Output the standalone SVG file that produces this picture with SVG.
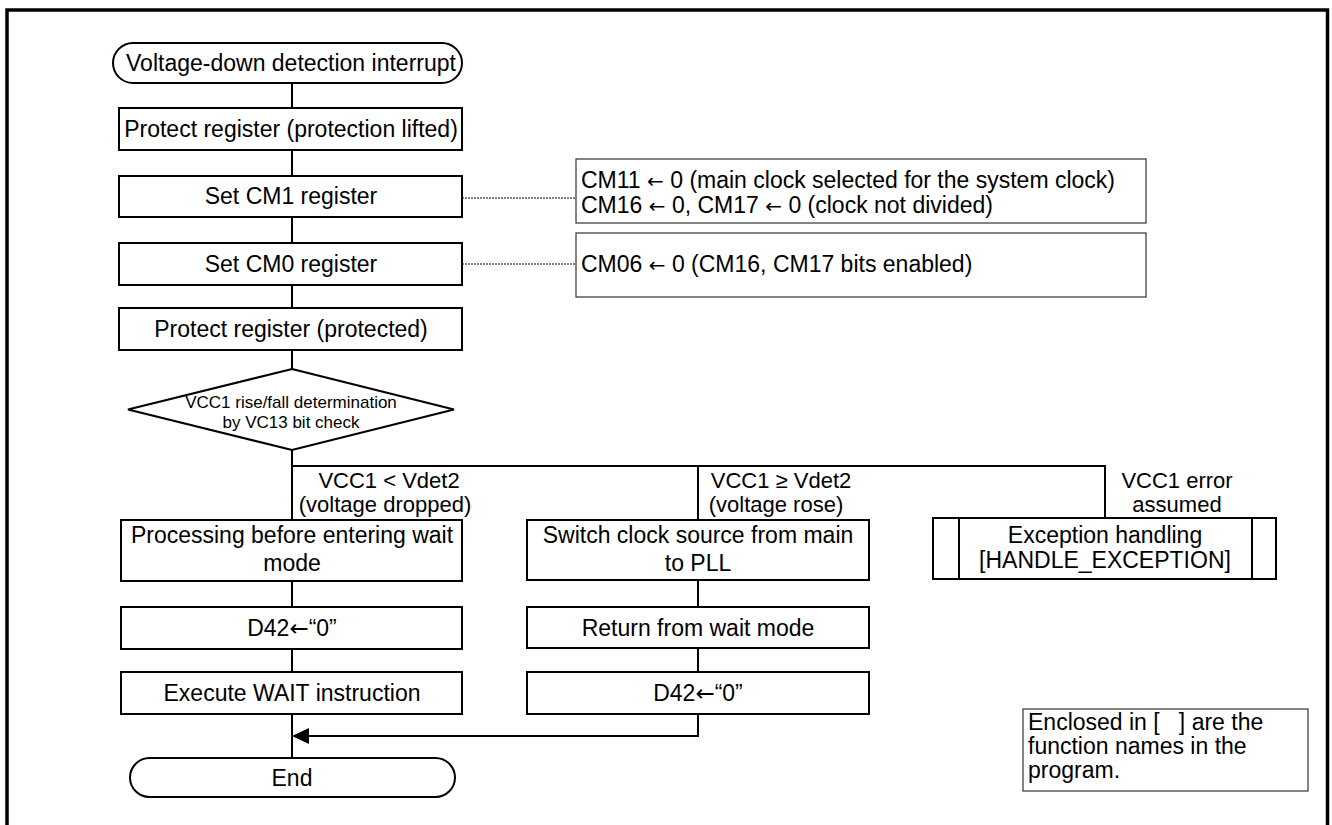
<svg xmlns="http://www.w3.org/2000/svg" width="1332" height="825" viewBox="0 0 1332 825">
<defs>
<style>
text{font-family:"Liberation Sans",Arial,sans-serif;font-size:23px;fill:#000;}
.c{text-anchor:middle;}
.s{font-size:17px;}
.lb{font-size:22px;}
.ar{font-family:"DejaVu Sans",sans-serif;font-size:20px;}
.ar2{font-family:"DejaVu Sans",sans-serif;font-size:23px;}
.pre{white-space:pre;}
.box{fill:#fff;stroke:#000;stroke-width:2;}
.note{fill:#fff;stroke:#333;stroke-width:1.2;}
.ln{fill:none;stroke:#000;stroke-width:2;}
.dot{fill:none;stroke:#000;stroke-width:1;stroke-dasharray:2 1;}
</style>
</defs>
<rect x="0" y="0" width="1332" height="825" fill="#fff"/>
<rect x="7" y="10" width="1320.5" height="840" fill="none" stroke="#000" stroke-width="3.5"/>

<g id="connectors">
<path class="ln" d="M292 83V108M292 150V176M292 217V243M292 285V308M292 350V369M292 450V520M292 581V607M292 649V672M292 714V758"/>
<path class="ln" d="M292 466H1105V518M698 466V520M698 580V607M698 648V672M698 714V736H300"/>
<path d="M292 736L309 728V744Z" fill="#000"/>
<path class="dot" d="M462 198H576M462 264H576"/>
</g>

<g id="start">
<rect class="box" x="113" y="43" width="349" height="40" rx="20"/>
<text class="c" x="291" y="71">Voltage-down detection interrupt</text>
</g>
<g id="protect-lift">
<rect class="box" x="119" y="108" width="343" height="42"/>
<text class="c" x="291" y="137">Protect register (protection lifted)</text>
</g>
<g id="set-cm1">
<rect class="box" x="119" y="176" width="343" height="41"/>
<text class="c" x="291" y="204">Set CM1 register</text>
</g>
<g id="note-cm1">
<rect class="note" x="576" y="159" width="570" height="64"/>
<text x="581" y="188">CM11 <tspan class="ar">←</tspan> 0 (main clock selected for the system clock)</text>
<text x="581" y="213">CM16 <tspan class="ar">←</tspan> 0, CM17 <tspan class="ar">←</tspan> 0 (clock not divided)</text>
</g>
<g id="set-cm0">
<rect class="box" x="119" y="243" width="343" height="42"/>
<text class="c" x="291" y="272">Set CM0 register</text>
</g>
<g id="note-cm0">
<rect class="note" x="576" y="233" width="570" height="64"/>
<text x="581" y="272">CM06 <tspan class="ar">←</tspan> 0 (CM16, CM17 bits enabled)</text>
</g>
<g id="protect-on">
<rect class="box" x="119" y="308" width="343" height="42"/>
<text class="c" x="291" y="337">Protect register (protected)</text>
</g>
<g id="decision">
<polygon class="box" points="292,369 454,409.5 292,450 128,409.5"/>
<text class="c s" x="291" y="408">VCC1 rise/fall determination</text>
<text class="c s" x="291" y="428">by VC13 bit check</text>
</g>
<g id="labels">
<text class="c lb" x="389" y="488">VCC1 &lt; Vdet2</text>
<text class="c lb" x="385" y="512">(voltage dropped)</text>
<text class="c lb" x="781" y="488">VCC1 ≥ Vdet2</text>
<text class="c lb" x="776" y="512">(voltage rose)</text>
<text class="c lb" x="1177" y="488">VCC1 error</text>
<text class="c lb" x="1177" y="512">assumed</text>
</g>
<g id="pre-wait">
<rect class="box" x="121" y="520" width="341" height="61"/>
<text class="c" x="292" y="543">Processing before entering wait</text>
<text class="c" x="292" y="571">mode</text>
</g>
<g id="switch-clock">
<rect class="box" x="527" y="520" width="342" height="60"/>
<text class="c" x="698" y="543">Switch clock source from main</text>
<text class="c" x="698" y="571">to PLL</text>
</g>
<g id="exception">
<rect class="box" x="933" y="518" width="343" height="61"/>
<path class="ln" d="M959 518V579M1252 518V579"/>
<text class="c" x="1105" y="543">Exception handling</text>
<text class="c" x="1105" y="568">[HANDLE_EXCEPTION]</text>
</g>
<g id="d42-left">
<rect class="box" x="121" y="607" width="341" height="42"/>
<text class="c" x="292" y="636">D42<tspan class="ar2">←</tspan>“0”</text>
</g>
<g id="return-wait">
<rect class="box" x="527" y="607" width="342" height="41"/>
<text class="c" x="698" y="636">Return from wait mode</text>
</g>
<g id="wait-instr">
<rect class="box" x="121" y="672" width="341" height="42"/>
<text class="c" x="292" y="701">Execute WAIT instruction</text>
</g>
<g id="d42-mid">
<rect class="box" x="527" y="672" width="342" height="42"/>
<text class="c" x="698" y="701">D42<tspan class="ar2">←</tspan>“0”</text>
</g>
<g id="end">
<rect class="box" x="130" y="758" width="325" height="39" rx="19.5"/>
<text class="c" x="292" y="786">End</text>
</g>
<g id="legend">
<rect class="note" x="1023" y="709" width="285" height="82"/>
<text class="pre" x="1028" y="730">Enclosed in [   ] are the</text>
<text x="1028" y="754">function names in the</text>
<text x="1028" y="778">program.</text>
</g>
</svg>
